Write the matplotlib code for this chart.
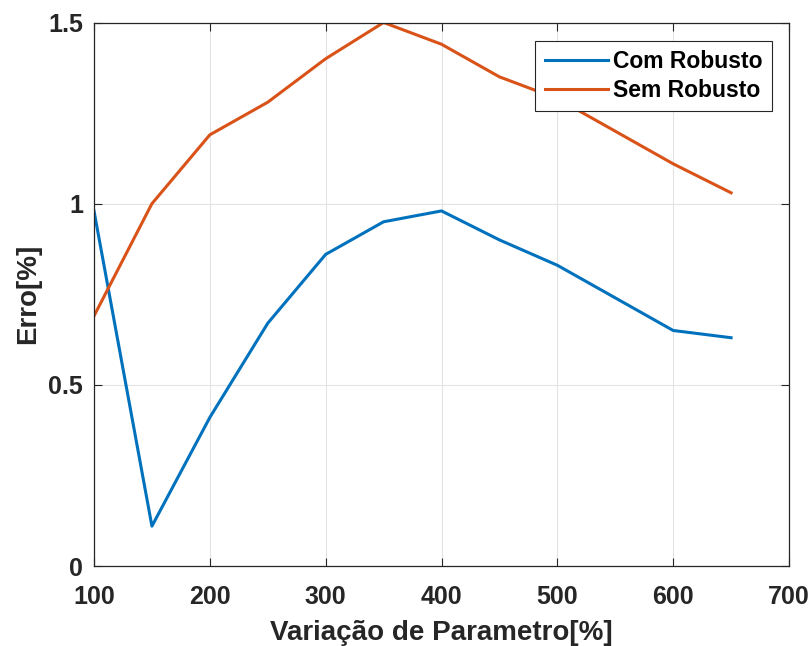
import matplotlib
matplotlib.use("Agg")
import matplotlib.pyplot as plt

# parameter variation [%] and error [%] for both controllers
variacao = [100, 150, 200, 250, 300, 350, 400, 450, 500, 600, 650]
com_robusto = [0.98, 0.11, 0.41, 0.67, 0.86, 0.95, 0.98, 0.90, 0.83, 0.65, 0.63]
sem_robusto = [0.69, 1.00, 1.19, 1.28, 1.40, 1.50, 1.44, 1.35, 1.29, 1.11, 1.03]

xticks = [100, 200, 300, 400, 500, 600, 700]
yticks = [0, 0.5, 1, 1.5]
ytick_labels = ["0", "0.5", "1", "1.5"]

plt.rcParams["font.family"] = ["Liberation Sans", "DejaVu Sans"]
plt.rcParams["font.weight"] = "bold"

fig = plt.figure(figsize=(8.11, 6.46), dpi=100)
ax = fig.add_axes([94 / 811, 1 - 566 / 646, 695 / 811, 543.5 / 646])

ax.plot(variacao, com_robusto, color="#0072BD", lw=2.2, label="Com Robusto")
ax.plot(variacao, sem_robusto, color="#D95319", lw=2.2, label="Sem Robusto")

ax.set_xlim(100, 700)
ax.set_ylim(0, 1.5)
ax.set_xticks(xticks)
ax.set_yticks(yticks)
ax.set_yticklabels(ytick_labels)
ax.grid(True, color="#e3e3e3", lw=0.8)
ax.set_axisbelow(True)
ax.tick_params(direction="in", length=6, width=0.8, color="#262626",
               top=True, right=True, labelsize=18, labelcolor="#262626")
ax.tick_params(axis="x", pad=13.5)
ax.tick_params(axis="y", pad=8)
for s in ax.spines.values():
    s.set_color("#262626")
    s.set_linewidth(0.9)

ax.set_xlabel("Variação de Parametro[%]", fontsize=20, fontweight="bold",
              color="#262626", labelpad=8)
ax.set_ylabel("Erro[%]", fontsize=20, fontweight="bold", color="#262626", labelpad=5)

leg = ax.legend(loc="upper right", bbox_to_anchor=(0.9755, 0.966),
                prop={"weight": "bold", "size": 16.5}, fancybox=False,
                edgecolor="#262626", framealpha=1, handlelength=2.75,
                borderpad=0.4, labelspacing=0.25, handletextpad=0.25,
                borderaxespad=0)
leg.get_frame().set_linewidth(0.8)

fig.savefig("out.png", dpi=100)
